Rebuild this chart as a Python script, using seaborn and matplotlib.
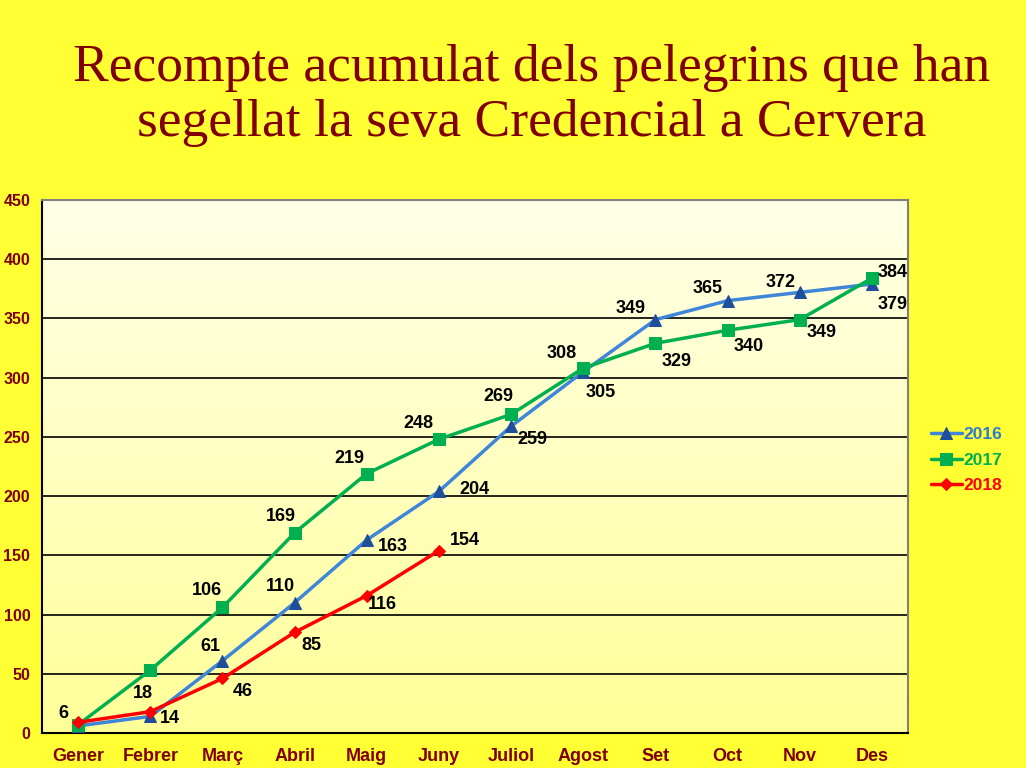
import numpy as np
import pandas as pd
import matplotlib
matplotlib.use("Agg")
import matplotlib.pyplot as plt
import seaborn as sns

mesos = ["Gener", "Febrer", "Març", "Abril", "Maig", "Juny",
         "Juliol", "Agost", "Set", "Oct", "Nov", "Des"]
v2016 = [6, 14, 61, 110, 163, 204, 259, 305, 349, 365, 372, 379]
v2017 = [7, 53, 106, 169, 219, 248, 269, 308, 329, 340, 349, 384]
v2018 = [9, 18, 46, 85, 116, 154]

# labelled points and where the label sits (offset in pixels, +y = up)
lab2016 = {0: (-15, 12), 1: (20, -2), 2: (-12, 14), 3: (-14, 16), 4: (26, -7),
           5: (35, 2), 6: (21, -13), 7: (17, -21), 8: (-25, 11), 9: (-20, 12),
           10: (-19, 10), 11: (21, -20)}
lab2017 = {2: (-16, 17), 3: (-14, 16), 4: (-17, 15), 5: (-21, 16), 6: (-13, 18),
           7: (-22, 15), 8: (21, -18), 9: (21, -16), 10: (22, -13), 11: (21, 6)}
lab2018 = {1: (-7, 18), 2: (20, -13), 3: (17, -13), 4: (16, -9), 5: (26, 10)}

sns.set_theme(style="white")
plt.rcParams["font.family"] = ["Liberation Sans", "DejaVu Sans"]

fig = plt.figure(figsize=(10.26, 7.68), dpi=100, facecolor="#FFFF33")
ax = fig.add_axes([0.041, 0.0456, 0.844, 0.694])

# gradient background of the plot area
grad = np.linspace(0, 1, 256).reshape(-1, 1)
cmap = matplotlib.colors.LinearSegmentedColormap.from_list("bg", ["#FFFFE8", "#FFFF99"])
ax.imshow(grad, cmap=cmap, aspect="auto", extent=[0, 1, 0, 1],
          transform=ax.transAxes, zorder=0)

series = [
    ("2016", v2016, "#3F86D9", "#1F4E9A", "^", lab2016, "#2F7BD0"),
    ("2017", v2017, "#00B050", "#00B050", "s", lab2017, "#00B050"),
    ("2018", v2018, "#FF0000", "#FF0000", "D", lab2018, "#FF0000"),
]

px = 72 / 100  # pixel -> points
for name, vals, col, mcol, mk, labs, _ in series:
    df = pd.DataFrame({"x": np.arange(len(vals)), "y": vals})
    sns.lineplot(data=df, x="x", y="y", ax=ax, color=col, linewidth=2.5,
                 marker=mk, markersize=8 if mk != "D" else 6,
                 markerfacecolor=mcol, markeredgecolor=mcol, label=name, zorder=3)
    for i, (dx, dy) in labs.items():
        ax.annotate(str(vals[i]), (i, vals[i]), xytext=(dx * px, dy * px),
                    textcoords="offset points", ha="center", va="center",
                    fontsize=13, fontweight="bold", color="black", zorder=4)

ax.set_xlim(-0.5, 11.5)
ax.set_ylim(0, 450)
ax.set_xticks(range(12))
ax.set_xticklabels(mesos)
ax.set_yticks(range(0, 451, 50))
ax.set_xlabel("")
ax.set_ylabel("")
ax.tick_params(axis="both", length=0, labelcolor="#800000")
ax.tick_params(axis="x", pad=11, labelsize=13)
ax.tick_params(axis="y", pad=8.5, labelsize=11.5)
for t in ax.get_xticklabels() + ax.get_yticklabels():
    t.set_fontweight("bold")
for yv in range(50, 450, 50):
    ax.axhline(yv, color="black", linewidth=1.2, zorder=1)

for side, c in [("left", "black"), ("bottom", "black"), ("top", "#808080"), ("right", "#808080")]:
    ax.spines[side].set_color(c)
    ax.spines[side].set_linewidth(1.5)

leg = ax.legend(loc="center left", bbox_to_anchor=(0.892, 0.401),
                bbox_transform=fig.transFigure, frameon=False,
                handlelength=1.8, handletextpad=0.1, labelspacing=0.6,
                prop={"weight": "bold", "size": 12.5})
for txt, s in zip(leg.get_texts(), series):
    txt.set_color(s[6])

title_kw = dict(ha="center", va="center", fontsize=38.5, color="#800000",
                family=["Liberation Serif", "DejaVu Serif"])
fig.text(0.5185, 0.912, "Recompte acumulat dels pelegrins que han", **title_kw)
fig.text(0.5185, 0.840, "segellat la seva Credencial a Cervera", **title_kw)

fig.savefig("out.png", dpi=100, facecolor=fig.get_facecolor())
